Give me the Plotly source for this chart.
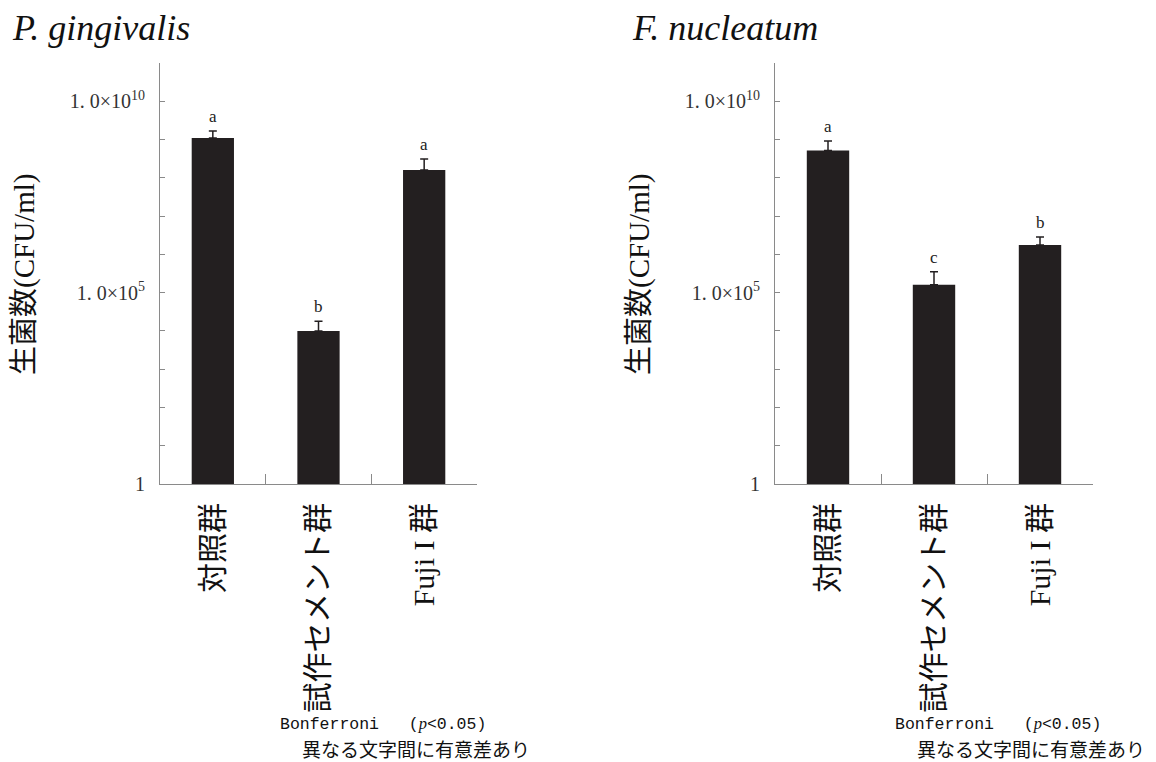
import numpy as np
import plotly.graph_objects as go

W, H = 1156, 762

categories = ["対照群", "試作セメント群", "Fuji I 群"]
pg_means = [1.1e9, 1.0e4, 1.6e8]
pg_err = [5.6e8, 8.0e3, 1.5e8]
pg_letters = ["a", "b", "a"]
fn_means = [5.2e8, 1.6e5, 1.75e6]
fn_err = [3.9e8, 1.9e5, 1.1e6]
fn_letters = ["a", "c", "b"]
titles = ["P. gingivalis", "F. nucleatum"]
y_title = "生菌数(CFU/ml)"
tick_vals = [10.0 ** k for k in range(0, 12)]
tick_text = ["1", "", "", "", "", "1. 0×10<sup>5</sup>", "", "", "", "", "1. 0×10<sup>10</sup>", ""]
note1 = "Bonferroni&nbsp;&nbsp;&nbsp;(<span style='font-family:Liberation Serif'><i>p</i></span>&lt;0.05)"
note2 = "異なる文字間に有意差あり"

BAR = "#231f20"
AX = "#8a8a8a"

def px(x):
    return x / W

def py(y):
    return (H - y) / H

fig = go.Figure()

panels = [
    dict(x0=160, x1=477, means=pg_means, err=pg_err, letters=pg_letters, xa="x", ya="y"),
    dict(x0=775, x1=1093, means=fn_means, err=fn_err, letters=fn_letters, xa="x2", ya="y2"),
]

for i, p in enumerate(panels):
    fig.add_trace(go.Bar(
        x=categories, y=p["means"], width=0.4,
        marker=dict(color=BAR, line=dict(width=0)),
        error_y=dict(type="data", symmetric=False, array=p["err"],
                     arrayminus=[0] * 3, color="#231f20", thickness=1.5, width=4),
        xaxis=p["xa"], yaxis=p["ya"], showlegend=False, hoverinfo="skip",
    ))
    for c, m, e, l in zip(categories, p["means"], p["err"], p["letters"]):
        fig.add_annotation(x=c, y=np.log10(m + e), xref=p["xa"], yref=p["ya"],
                           text=l, showarrow=False, yanchor="bottom", yshift=3,
                           font=dict(family="Liberation Serif", size=17, color="#222"))
    suffix = "" if i == 0 else "2"
    xdom = [px(p["x0"]), px(p["x1"])]
    ydom = [py(484), py(63)]
    fig.update_layout(**{
        "xaxis" + suffix: dict(
            domain=xdom, anchor="y" + suffix, type="category", automargin=False,
            showline=True, linecolor=AX, linewidth=1,
            ticks="inside", tickson="boundaries", ticklen=10, tickcolor=AX,
            tickangle=-90, ticklabelstandoff=6,
            tickfont=dict(family="Liberation Serif, Noto Sans CJK JP", size=30, color="#111"),
            showgrid=False, zeroline=False, fixedrange=True,
        ),
        "yaxis" + suffix: dict(
            domain=ydom, anchor="x" + suffix, type="log", range=[0, 11], automargin=False,
            showline=True, linecolor=AX, linewidth=1,
            ticks="inside", ticklen=5, tickcolor=AX,
            tickmode="array", tickvals=tick_vals, ticktext=tick_text,
            ticklabelstandoff=10,
            tickfont=dict(family="Liberation Serif", size=20, color="#333"),
            showgrid=False, zeroline=False, fixedrange=True,
        ),
    })
    off = p["x0"] - 160
    # panel title
    fig.add_annotation(x=px(10 + (620 if i else 0)), y=py(28), xref="paper", yref="paper",
                       text="<i>" + titles[i] + "</i>", showarrow=False,
                       xanchor="left", yanchor="middle",
                       font=dict(family="Liberation Serif", size=36, color="#111"))
    # y title
    fig.add_annotation(x=px(24 + off), y=py(275), xref="paper", yref="paper",
                       text=y_title, showarrow=False, textangle=-90,
                       xanchor="center", yanchor="middle",
                       font=dict(family="Liberation Serif, Noto Sans CJK JP", size=29, color="#111"))
    # footnotes
    fig.add_annotation(x=px(278 + off), y=py(724), xref="paper", yref="paper",
                       text=note1, showarrow=False, xanchor="left", yanchor="middle",
                       font=dict(family="Liberation Mono, Noto Sans CJK JP", size=16.5, color="#111"))
    fig.add_annotation(x=px(300 + off), y=py(748), xref="paper", yref="paper",
                       text=note2, showarrow=False, xanchor="left", yanchor="middle",
                       font=dict(family="Noto Sans CJK JP", size=19, color="#111"))

fig.update_layout(
    width=W, height=H, margin=dict(l=0, r=0, t=0, b=0, autoexpand=False),
    paper_bgcolor="white", plot_bgcolor="white", bargap=0.6,
)

fig.write_html(
    "out.html",
    config={"displayModeBar": False},
    post_script="document.body.style.margin='0';document.body.style.overflow='hidden';",
)
